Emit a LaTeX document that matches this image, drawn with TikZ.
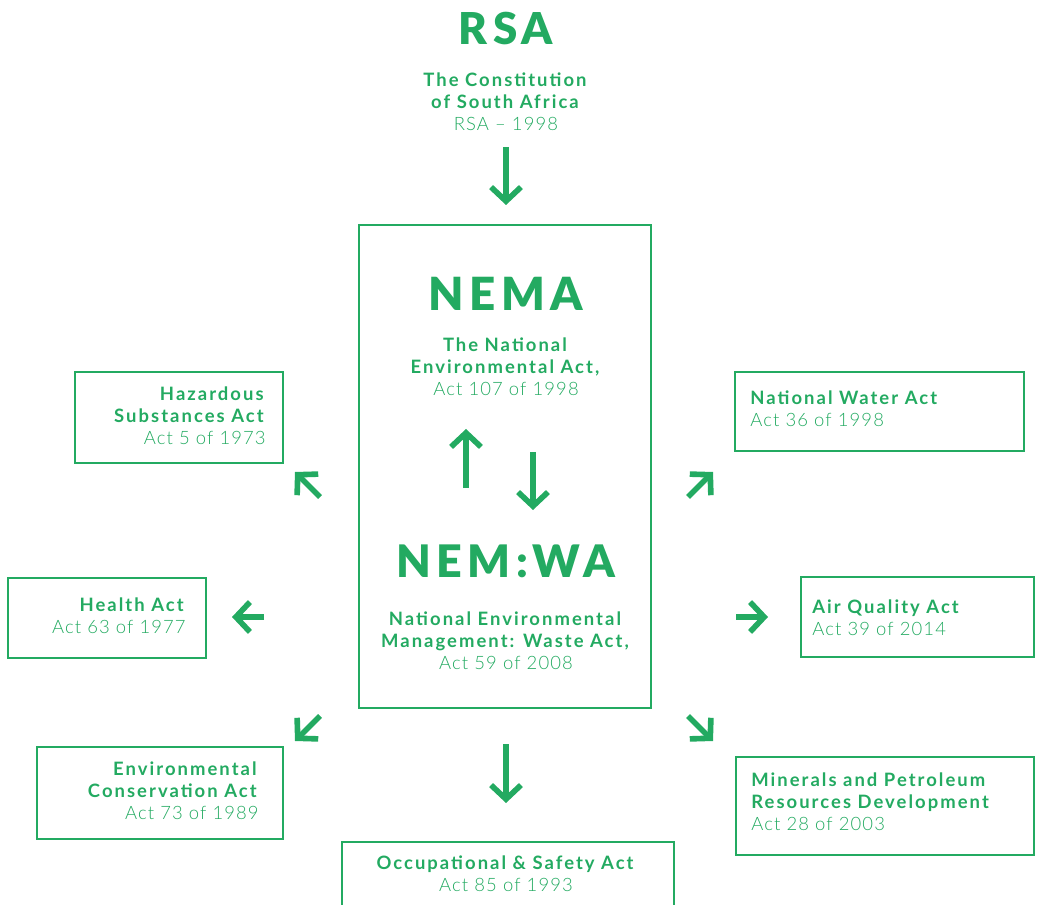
\documentclass[tikz,border=0pt]{standalone}
\usepackage{fontspec}
\setmainfont{Lato}[UprightFont={* Light},BoldFont={* Bold},UprightFeatures={LetterSpace=6},BoldFeatures={LetterSpace=11}]
\newfontfamily\headfont{Lato Black}[LetterSpace=12]
\usetikzlibrary{arrows.meta}
\definecolor{actgreen}{RGB}{35,170,97}
\begin{document}
\begin{tikzpicture}[x=0.02cm,y=-0.02cm,
	box/.style={draw=actgreen, line width=1.5pt},
	head/.style={text=actgreen, inner sep=0pt, anchor=north, font=\headfont\fontsize{25}{28}\selectfont},
	txt/.style={text=actgreen, inner sep=0pt, font=\fontsize{10.5}{12.6}\selectfont},
	ptr/.style={draw=actgreen, line width=3.2pt, -{Straight Barb[length=8pt,width=17pt]}}];
	\useasboundingbox (0,0) rectangle (1038,905);
	% centre column
	\node[head] (rsa) at (506,12) {RSA};
	\node[txt, anchor=north, align=center] (const) at (506,72) {\textbf{The Constitution}\\\textbf{of South Africa}\\RSA -- 1998};
	\draw[box] (359,225) rectangle (651,708);
	\node[head, font=\headfont\fontsize{26}{28}\selectfont] (nema) at (506,277) {NEMA};
	\node[txt, anchor=north, align=center] (nemad) at (506,337) {\textbf{The National}\\\textbf{Environmental Act,}\\Act 107 of 1998};
	\node[head, font=\headfont\fontsize{25.5}{28}\selectfont] (nemwa) at (506,545) {NEM:WA};
	\node[txt, anchor=north, align=center] (nemwad) at (506,611) {\textbf{National Environmental}\\\textbf{Management: Waste Act,}\\Act 59 of 2008};
	\draw[box] (342,910) |- (674,842) -- (674,910);
	\node[txt, anchor=north, align=center] (occ) at (506,855) {\textbf{Occupational \& Safety Act}\\Act 85 of 1993};
	% left acts
	\draw[box] (75,372) rectangle (283,463);
	\node[txt, anchor=north east, align=right] (haz) at (266,386) {\textbf{Hazardous}\\\textbf{Substances Act}\\Act 5 of 1973};
	\draw[box] (8,578) rectangle (206,658);
	\node[txt, anchor=north east, align=right] (health) at (186,597) {\textbf{Health Act}\\Act 63 of 1977};
	\draw[box] (37,747) rectangle (283,839);
	\node[txt, anchor=north east, align=right] (env) at (259,761) {\textbf{Environmental}\\\textbf{Conservation Act}\\Act 73 of 1989};
	% right acts
	\draw[box] (735,372) rectangle (1024,451);
	\node[txt, anchor=north west, align=left] (water) at (750,390) {\textbf{National Water Act}\\Act 36 of 1998};
	\draw[box] (801,577) rectangle (1034,657);
	\node[txt, anchor=north west, align=left] (air) at (812,599) {\textbf{Air Quality Act}\\Act 39 of 2014};
	\draw[box] (736,757) rectangle (1034,855);
	\node[txt, anchor=north west, align=left] (min) at (751,772) {\textbf{Minerals and Petroleum}\\\textbf{Resources Development}\\Act 28 of 2003};
	% arrow ends
	\coordinate (c1) at (506,147); \coordinate (c2) at (506,205);
	\coordinate (u1) at (466,488); \coordinate (u2) at (466,429);
	\coordinate (d1) at (533,452); \coordinate (d2) at (533,510);
	\coordinate (b1) at (506,744); \coordinate (b2) at (506,803);
	\coordinate (nw1) at (320,497); \coordinate (nw2) at (295,472);
	\coordinate (w1) at (264,617); \coordinate (w2) at (232,617);
	\coordinate (sw1) at (320,716); \coordinate (sw2) at (295,741);
	\coordinate (ne1) at (688,497); \coordinate (ne2) at (713,472);
	\coordinate (e1) at (736,617); \coordinate (e2) at (768,617);
	\coordinate (se1) at (688,716); \coordinate (se2) at (713,741);
	\foreach \a/\b in {c1/c2,u1/u2,d1/d2,b1/b2,nw1/nw2,w1/w2,sw1/sw2,ne1/ne2,e1/e2,se1/se2}
		\draw[ptr] (\a) -- (\b);
\end{tikzpicture}
\end{document}
